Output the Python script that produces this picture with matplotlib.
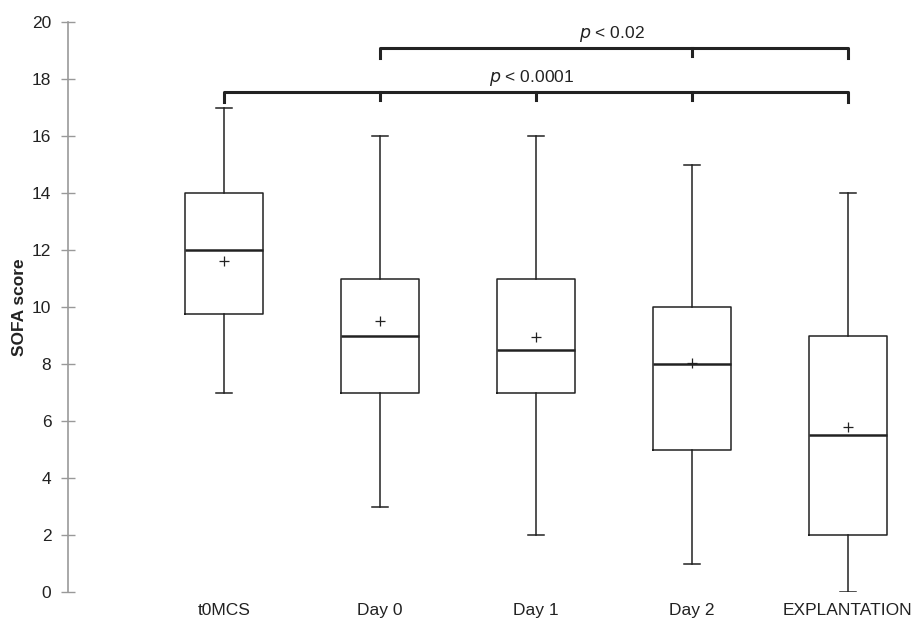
import matplotlib
matplotlib.use("Agg")
import matplotlib.pyplot as plt

plt.rcParams['font.family'] = ['Liberation Sans', 'DejaVu Sans']

categories = ["t0MCS", "Day 0", "Day 1", "Day 2", "EXPLANTATION"]
whislo = [7, 3, 2, 1, 0]
q1 = [9.75, 7, 7, 5, 2]
medians = [12, 9, 8.5, 8, 5.5]
q3 = [14, 11, 11, 10, 9]
whishi = [17, 16, 16, 15, 14]
means = [11.6, 9.5, 8.95, 8.05, 5.8]

y_ticks = [0, 2, 4, 6, 8, 10, 12, 14, 16, 18, 20]

# significance brackets
sig_labels = ["p < 0.0001", "p < 0.02"]
sig_levels = [17.55, 19.1]
sig_spans = [(0, 4), (1, 4)]
sig_inner = [[1, 2, 3], [3]]
sig_label_x = [2.97, 3.49]

fig = plt.figure(figsize=(9.19, 6.2), dpi=100)
W, H = 919, 620
ax = fig.add_axes([68 / W, 1 - 592 / H, (918 - 68) / W, (592 - 22) / H])

stats = []
for i, c in enumerate(categories):
    stats.append(dict(label=c, whislo=whislo[i], q1=q1[i], med=medians[i],
                      q3=q3[i], whishi=whishi[i], mean=means[i], fliers=[]))

dark = "#222222"
positions = list(range(1, len(categories) + 1))
ax.bxp(stats, positions=positions, widths=0.5, showmeans=True, showfliers=False,
       boxprops=dict(color=dark, linewidth=1.1),
       whiskerprops=dict(color=dark, linewidth=1.1),
       capprops=dict(color=dark, linewidth=1.1),
       medianprops=dict(color=dark, linewidth=1.8),
       meanprops=dict(marker='+', markeredgecolor=dark, markersize=7, markeredgewidth=0.9),
       capwidths=0.1)

ax.set_xlim(0, 5.45)
ax.set_ylim(0, 20)
ax.set_yticks(y_ticks)
ax.set_xticks(positions)
ax.set_xticklabels(categories)

for s in ["top", "right", "bottom"]:
    ax.spines[s].set_visible(False)
ax.spines["left"].set_color("#999999")
ax.spines["left"].set_linewidth(1.2)
ax.tick_params(axis='y', direction='inout', length=10, width=1.0, color="#999999",
               labelsize=12.5, labelcolor=dark, pad=7)
ax.tick_params(axis='x', length=0, labelsize=12.5, labelcolor=dark, pad=8)
ax.set_ylabel("SOFA score", fontsize=12.5, fontweight='bold', color=dark)
ax.yaxis.set_label_coords(-0.048, 0.5)

drop = 0.35
for k in range(len(sig_labels)):
    a, b = sig_spans[k]
    lvl = sig_levels[k]
    xa, xb = positions[a], positions[b]
    ax.plot([xa, xa, xb, xb], [lvl - drop, lvl, lvl, lvl - drop], color=dark,
            linewidth=2.2, clip_on=False, solid_joinstyle='round')
    for j in sig_inner[k]:
        xj = positions[j]
        ax.plot([xj, xj], [lvl, lvl - drop * 0.8], color=dark, linewidth=2.2, clip_on=False)
    txt = sig_labels[k]
    ax.text(sig_label_x[k], lvl + 0.12, r"$\it{p}$" + txt[1:], ha='center', va='bottom',
            fontsize=12.5, color=dark)

fig.savefig("out.png", dpi=100)
